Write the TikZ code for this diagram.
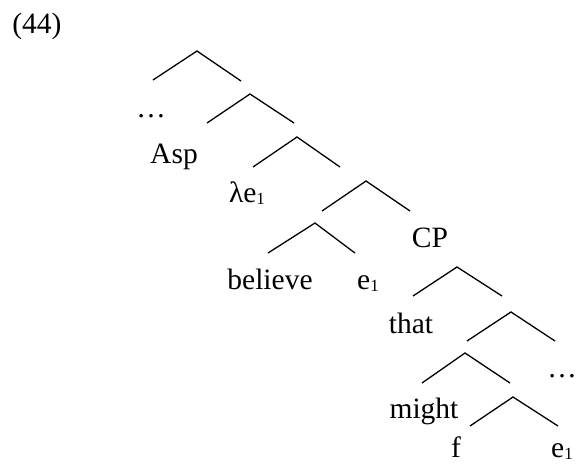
\documentclass[tikz,border=0pt]{standalone}
\usepackage{fontspec}
\setmainfont{Liberation Serif}
% small, slightly lowered index digit
\newcommand\lowidx[1]{\raisebox{-0.1em}{\fontsize{17}{17}\selectfont #1}}
\begin{document}
\begin{tikzpicture}[x=1pt,y=-1pt,
  branch/.style={line width=1.3pt, line cap=butt},
  lab/.style={anchor=base, inner sep=0pt, font=\fontsize{29.5}{34}\selectfont}]
\useasboundingbox (0,0) rectangle (578,464);

% example number
\node[lab] (num) at (37,33) {(44)};

% branching points and branch ends
\foreach \n/\px/\py/\lx/\ly/\rx/\ry in {
  a/197/51/153/80/241/81,
  b/250/94/207/123/294/123,
  c/297/137/253/167/340/167,
  d/366/181/322/211/410/211,
  e/315/223/268/253/355/253,
  g/457/267/413/296/502/296,
  h/511/312/467/341/555/341,
  k/465/353/422/383/510/383,
  m/513/397/470/426/558/426}{
  \coordinate (\n) at (\px,\py);
  \coordinate (\n L) at (\lx,\ly);
  \coordinate (\n R) at (\rx,\ry);
  \draw[branch] (\n L) -- (\n) -- (\n R);
}

% leaves and labels
\node[lab] (dots1)   at (151,117) {\ldots};
\node[lab] (asp)     at (174,163) {Asp};
\node[lab] (lam)     at (247,202) {λe\lowidx{1}};
\node[lab] (cp)      at (430,247) {CP};
\node[lab] (believe) at (270,289) {believe};
\node[lab] (e1a)     at (368,289) {e\lowidx{1}};
\node[lab] (that)    at (411,333) {that};
\node[lab] (dots2)   at (562,377) {\ldots};
\node[lab] (might)   at (424,418) {might};
\node[lab] (f)       at (456,457) {f};
\node[lab] (e1b)     at (562,457) {e\lowidx{1}};
\end{tikzpicture}
\end{document}
